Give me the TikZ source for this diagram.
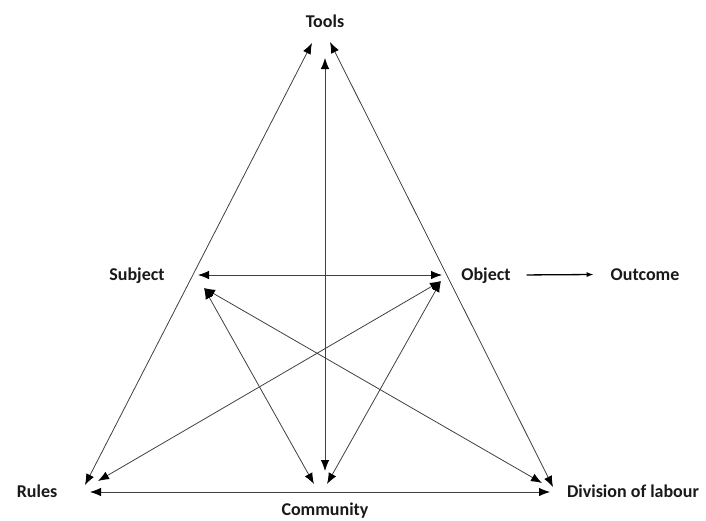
\documentclass[tikz,border=0pt]{standalone}
\usepackage{fontspec}
\setmainfont{Carlito}
\usetikzlibrary{arrows.meta}
\usetikzlibrary{positioning}
\tikzset {
  link path/.style = {
    draw = black!75,
    line width = 0.8pt
  },
  % path style with a tip at both ends
  arrs/.style = {
    link path,
    {Latex[length=11pt,width=8.5pt,black]}-{Latex[length=11pt,width=8.5pt,black]}
  },
  % path style with one small tip
  arr/.style = {
    draw = black,
    line width = 1.3pt,
    -{Latex[length=7pt,width=5pt]},
    shorten <= 13pt,
    shorten >= 14pt
  }
}
\tikzset {
  % corner label
  corner/.style = {
    anchor = base,
    inner sep = 0.1cm,
    font = \fontsize{18}{20}\selectfont\bfseries,
    text = black!90
  }
}
\begin{document}
\begin{tikzpicture}[x=1pt,y=-1pt]
    \useasboundingbox (0,0) rectangle (706,520);

    \node[corner] (tools) at (325,27) {Tools};
    \node[corner] (subject) at (137,280) {Subject};
    \node[corner] (object) at (486,280) {Object};
    \node[corner] (outcome) [right=94pt of object.base east, anchor=base west] {Outcome};
    \node[corner] (rules) at (37,497) {Rules};
    \node[corner] (community) at (325,515) {Community};
    \node[corner] (division) at (633,497) {Division of labour};

    % ends of the links at each corner
    \coordinate (tools-l) at (312,43);
    \coordinate (tools-c) at (325,58);
    \coordinate (tools-r) at (330,42);
    \coordinate (subject-h) at (198,275);
    \coordinate (subject-d) at (204,288);
    \coordinate (object-h) at (442,275);
    \coordinate (object-d) at (441,281);
    \coordinate (rules-s) at (85,485);
    \coordinate (rules-d) at (98,481);
    \coordinate (rules-h) at (90,492);
    \coordinate (community-l) at (314,484);
    \coordinate (community-c) at (325,471);
    \coordinate (community-r) at (327,484);
    \coordinate (division-d) at (542,483);
    \coordinate (division-s) at (553,487);
    \coordinate (division-h) at (550,492);

    \draw[arrs] (tools-l) -- (rules-s);
    \draw[arrs] (tools-r) -- (division-s);
    \draw[arrs] (tools-c) -- (community-c);
    \draw[arrs] (subject-h) -- (object-h);
    \draw[arrs] (rules-h) -- (division-h);
    \draw[arrs] (subject-d) -- (community-l);
    \draw[arrs] (object-d) -- (community-r);
    \draw[arrs] (subject-d) -- (division-d);
    \draw[arrs] (object-d) -- (rules-d);

    \draw[arr] (object) -- (outcome);
\end{tikzpicture}
\end{document}
